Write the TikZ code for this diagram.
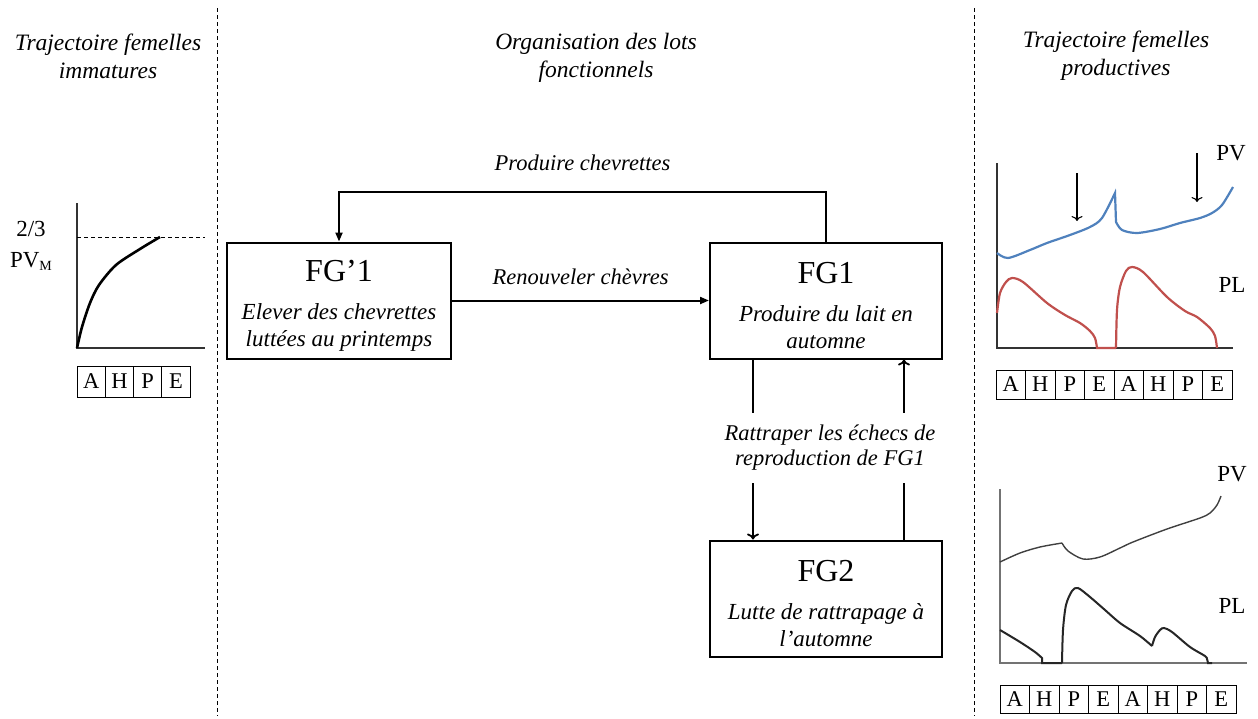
\documentclass[tikz,border=0pt]{standalone}
\usepackage{fontspec}
\setmainfont{Liberation Serif}
\usetikzlibrary{positioning,arrows.meta}

\newcommand\fgname[1]{{\fontsize{32}{34}\selectfont\upshape #1\rule{0pt}{31pt}}}

\begin{document}
\begin{tikzpicture}[
    x=1pt, y=-1pt,
    box/.style={
        draw,
        line width=2pt,
        align=center,
        minimum width=232pt,
        minimum height=116pt,
        inner sep=0pt,
        font=\fontsize{23}{27}\selectfont\itshape
    },
    lbl/.style={
        align=center,
        inner sep=0pt,
        font=\fontsize{22.5}{25}\selectfont\itshape
    },
    title/.style={
        align=center,
        inner sep=0pt,
        font=\fontsize{23.5}{28}\selectfont\itshape
    },
    tag/.style={
        inner sep=0pt,
        font=\fontsize{23}{26}\selectfont
    },
    month/.style={
        draw,
        line width=1pt,
        minimum width=29.5pt,
        minimum height=30pt,
        inner sep=0pt,
        font=\fontsize{22.5}{24}\selectfont
    },
    arrowfill/.style={
        -{Triangle[length=9pt,width=7pt]},
        line width=2pt
    },
    arrowopen/.style={
        -{To[length=6pt,width=12pt]},
        line width=1.8pt
    },
    link/.style={
        line width=1.8pt
    },
    sep/.style={
        dash pattern=on 4pt off 3pt,
        line width=1pt
    },
    chartaxis/.style={
        line width=1.5pt,
        draw=black!80
    },
    chartarrow/.style={
        -{To[length=5pt,width=11pt]},
        line width=1.1pt
    }
]
\useasboundingbox (0,0) rectangle (1258,718);

\draw[sep] (217,8) -- (217,716);
\draw[sep] (974,8) -- (974,716);

\node[title] (tleft) at (108,56) {Trajectoire femelles\\immatures};
\node[title] (tmid) at (596,58) {Organisation des lots\\fonctionnels};
\node[title] (tright) at (1116,56) {Trajectoire femelles\\productives};

\node[box, minimum width=224pt] (fgb) at (339,300.5) {\fgname{FG’1}\\[11pt]Elever des chevrettes\\luttées au printemps};
\node[box, right=257pt of fgb] (fga) {\fgname{FG1}\\[11pt]Produire du lait en\\automne};
\node[box, below=180pt of fga] (fgc) {\fgname{FG2}\\[11pt]Lutte de rattrapage à\\l’automne};

\node[lbl, minimum height=70pt] (retry) at (830,448) {Rattraper les échecs de\\reproduction de FG1};

\coordinate (dnA) at ([xshift=44pt]fga.south west);
\coordinate (upA) at ([xshift=-39pt]fga.south east);

\draw[arrowfill] (fga.north) -- ++(0,-50) -| (fgb.north)
    node[lbl, pos=0.25, above=20pt] {Produire chevrettes};
\draw[arrowfill] (fgb.east) -- (fga.west)
    node[lbl, midway, above=15pt] {Renouveler chèvres};

\draw[link] (dnA) -- (dnA |- retry.north);
\draw[arrowopen] (dnA |- retry.south) -- (dnA |- fgc.north);
\draw[link] (upA |- fgc.north) -- (upA |- retry.south);
\draw[arrowopen] (upA |- retry.north) -- (upA);

% immatures
\draw[chartaxis] (77,203) -- (77,348) -- (205,348);
\draw[sep] (77,237) -- (205,237);
\draw[line width=2.6pt] plot[smooth] coordinates {(77,348) (82,327) (90,303) (99,285) (116,265) (140,249) (160,237)};
\node[tag, anchor=base] (frac) at (31,236) {2/3};
\node[tag, anchor=base] (pvm) at (31,267) {PV\raisebox{-3pt}{\fontsize{14}{14}\selectfont M}};
\foreach \s [count=\i] in {A,H,P,E}
    \node[month, minimum width=28.25pt, minimum height=31pt] (ml\i) at ({77+28.25*(\i-0.5)},381.5) {\s};

% productives, haut
\draw[chartaxis] (997,163) -- (997,348) -- (1233,348);
\draw[line width=2.2pt, draw={rgb,255:red,79;green,129;blue,189}]
    plot[smooth] coordinates {(997,253) (1008,258) (1030,250) (1047,243) (1070,235) (1090,227) (1102,218) (1115,193)}
    -- (1116,222)
    plot[smooth] coordinates {(1116,222) (1122,230) (1137,233) (1160,229) (1180,223) (1200,218) (1212,213) (1222,205) (1233,187)};
\draw[line width=2.2pt, draw={rgb,255:red,192;green,80;blue,77}]
    plot[smooth] coordinates {(997,313) (1000,293) (1006,282) (1012,278) (1023,282) (1047,303) (1065,315) (1080,323) (1090,331) (1095,338) (1097,348)}
    -- (1116,348)
    plot[smooth] coordinates {(1116,348) (1117,310) (1120,287) (1126,271) (1132,267) (1143,272) (1167,297) (1185,311) (1197,317) (1210,328) (1215,336) (1217,348)};
\draw[chartarrow] (1077,173) -- (1077,221);
\draw[chartarrow] (1197,153) -- (1197,202);
\node[tag, anchor=base] (pvtop) at (1231,160) {PV};
\node[tag, anchor=base] (pltop) at (1232,292) {PL};
\foreach \s [count=\i] in {A,H,P,E,A,H,P,E}
    \node[month, minimum height=29pt] (mt\i) at ({996+29.5*(\i-0.5)},384.5) {\s};

% productives, bas
\draw[chartaxis, draw=black!55] (1000,489) -- (1000,663) -- (1247,663);
\draw[line width=1.4pt, draw=black!75]
    plot[smooth] coordinates {(1000,562) (1020,553) (1040,547) (1062,543)}
    plot[smooth] coordinates {(1062,543) (1068,551) (1083,559) (1100,557) (1120,548) (1133,542) (1167,529) (1200,518) (1210,513) (1217,505) (1221,496)};
\draw[line width=2pt, draw=black!85]
    plot[smooth] coordinates {(1000,630) (1020,642) (1035,652) (1042,658)}
    -- (1042,663) -- (1062,663)
    plot[smooth] coordinates {(1062,663) (1063,630) (1066,605) (1072,591) (1078,588) (1090,597) (1105,610) (1120,623) (1140,636) (1152,646)}
    plot[smooth] coordinates {(1152,646) (1155,637) (1160,630) (1164,628) (1172,632) (1190,647) (1205,656) (1207,659) (1208,663)}
    -- (1212,663);
\node[tag, anchor=base] (pvbot) at (1232,481) {PV};
\node[tag, anchor=base] (plbot) at (1232,613) {PL};
\foreach \s [count=\i] in {A,H,P,E,A,H,P,E}
    \node[month, minimum height=28pt] (mb\i) at ({1000+29.5*(\i-0.5)},699) {\s};

\end{tikzpicture}
\end{document}
